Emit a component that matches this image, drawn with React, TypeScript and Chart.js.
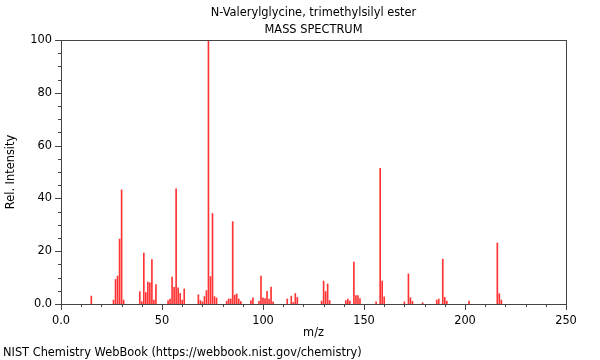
import React, { useEffect, useRef } from "react";
import { Chart, registerables } from "chart.js";

Chart.register(...registerables);

const titleLines = ["N-Valerylglycine, trimethylsilyl ester", "MASS SPECTRUM"];
const footerText = "NIST Chemistry WebBook (https://webbook.nist.gov/chemistry)";

const mzValues = [
  15, 26, 27, 28, 29, 30, 31, 39, 40, 41, 42, 43, 44, 45, 46, 47, 53, 54, 55, 56, 57, 58, 59, 60, 61,
  68, 69, 70, 71, 72, 73, 74, 75, 76, 77, 82, 83, 84, 85, 86, 87, 88, 89, 94, 95, 98, 99, 100, 101,
  102, 103, 104, 105, 112, 114, 115, 116, 117, 129, 130, 131, 132, 133, 141, 142, 143, 145, 146, 147,
  148, 156, 158, 159, 160, 170, 172, 173, 174, 179, 186, 187, 189, 190, 191, 202, 216, 217, 218,
];
const intensities = [
  3.0, 1.5, 9.3, 10.6, 24.6, 43.2, 1.5, 4.7, 0.9, 19.3, 4.3, 8.3, 8.0, 16.8, 1.5, 7.4, 1.3, 1.9, 10.2, 6.3, 43.6, 6.1, 4.0, 1.5, 5.7,
  3.5, 1.3, 0.8, 2.8, 5.1, 100, 10.4, 34.3, 2.8, 2.3, 1.1, 1.9, 1.9, 31.2, 3.4, 3.8, 1.9, 1.0, 1.3, 2.3, 1.0, 10.6, 2.3, 2.1,
  4.8, 1.9, 6.4, 0.8, 1.9, 3.0, 0.6, 4.0, 2.5, 1.1, 8.7, 4.7, 7.6, 1.3, 1.3, 1.9, 1.1, 15.9, 3.2, 3.2,
  2.1, 0.8, 51.4, 8.7, 2.7, 0.8, 11.4, 2.4, 1.0, 0.5, 1.5, 1.9, 17.0, 2.5, 1.1, 1.1, 23.1, 3.9, 1.5,
];

const xMajorTicks = [0, 50, 100, 150, 200, 250];
const yMajorTicks = [0, 20, 40, 60, 80, 100];
const xMinorStep = 10;
const yMinorStep = 5;

const FONT = "DejaVu Sans, sans-serif";
const FS = 11.4;

const fmt = (v: number) => (v === 0 ? "0.0" : String(v));

const decorPlugin = {
  id: "decor",
  afterDraw(chart: any) {
    const ctx = chart.ctx as CanvasRenderingContext2D;
    const area = chart.chartArea;
    const xs = chart.scales.x;
    const ys = chart.scales.y;
    ctx.save();
    ctx.strokeStyle = "#444";
    ctx.lineWidth = 1;
    ctx.strokeRect(Math.round(area.left) + 0.5, Math.round(area.top) + 0.5,
      Math.round(area.right - area.left), Math.round(area.bottom - area.top));
    ctx.beginPath();
    for (let v = 0; v <= 250; v += xMinorStep) {
      const px = Math.round(xs.getPixelForValue(v)) + 0.5;
      const len = xMajorTicks.includes(v) ? 6 : 3;
      ctx.moveTo(px, area.bottom);
      ctx.lineTo(px, area.bottom + len);
    }
    for (let v = 0; v <= 100; v += yMinorStep) {
      const py = Math.round(ys.getPixelForValue(v)) + 0.5;
      const len = yMajorTicks.includes(v) ? 6 : 3;
      ctx.moveTo(area.left, py);
      ctx.lineTo(area.left - len, py);
    }
    ctx.stroke();
    ctx.fillStyle = "#000";
    ctx.font = `${FS}px ${FONT}`;
    ctx.textAlign = "center";
    ctx.textBaseline = "middle";
    const cx = (area.left + area.right) / 2;
    ctx.fillText(titleLines[0], cx, 13);
    ctx.fillText(titleLines[1], cx, 30);
    ctx.fillText("m/z", cx, 333);
    ctx.save();
    ctx.translate(11, (area.top + area.bottom) / 2);
    ctx.rotate(-Math.PI / 2);
    ctx.fillText("Rel. Intensity", 0, 0);
    ctx.restore();
    ctx.textAlign = "left";
    ctx.fillText(footerText, 3, 353);
    ctx.restore();
  },
};

export default function App() {
  const canvasRef = useRef<HTMLCanvasElement | null>(null);
  useEffect(() => {
    if (!canvasRef.current) return;
    const chart = new Chart(canvasRef.current, {
      type: "bar",
      data: {
        datasets: [
          {
            data: mzValues.map((m, i) => ({ x: m, y: intensities[i] })),
            backgroundColor: "rgba(255,0,0,0.8)",
            borderWidth: 0,
            barThickness: 1,
            grouped: false,
          } as any,
        ],
      },
      options: {
        animation: false,
        responsive: false,
        maintainAspectRatio: false,
        layout: { padding: { left: 0, right: 34, top: 40, bottom: 0 } },
        plugins: { legend: { display: false }, tooltip: { enabled: false }, title: { display: false } },
        scales: {
          x: {
            type: "linear",
            min: 0,
            max: 250,
            offset: false,
            afterFit: (s: any) => { s.height = 56; },
            grid: { display: false, drawTicks: false },
            border: { display: false },
            afterBuildTicks: (s: any) => { s.ticks = xMajorTicks.map((v) => ({ value: v })); },
            ticks: { color: "#000", font: { family: FONT, size: FS }, padding: 10, maxRotation: 0, autoSkip: false, callback: (v: any) => fmt(Number(v)) },
          },
          y: {
            min: 0,
            max: 100,
            afterFit: (s: any) => { s.width = 61; },
            grid: { display: false, drawTicks: false },
            border: { display: false },
            afterBuildTicks: (s: any) => { s.ticks = yMajorTicks.map((v) => ({ value: v })); },
            ticks: { color: "#000", font: { family: FONT, size: FS }, padding: 9, callback: (v: any) => fmt(Number(v)) },
          },
        },
      },
      plugins: [decorPlugin],
    });
    return () => chart.destroy();
  }, []);
  return (
    <div style={{ position: "fixed", left: 0, top: 0, width: 600, height: 360, background: "#fff" }}>
      <canvas ref={canvasRef} width={600} height={360} style={{ width: 600, height: 360 }} />
    </div>
  );
}
